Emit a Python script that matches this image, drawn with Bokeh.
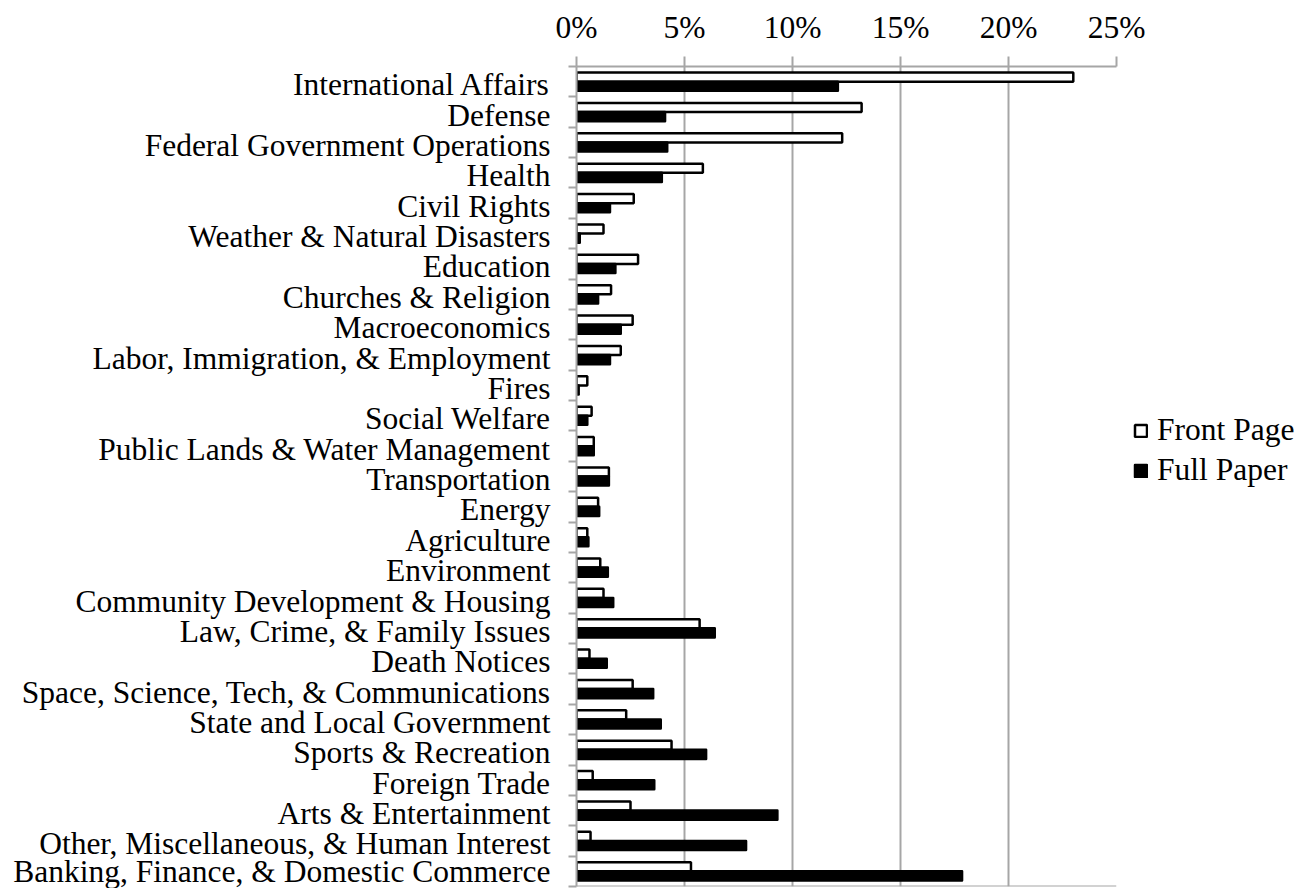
from bokeh.plotting import figure
from bokeh.models import (ColumnDataSource, FixedTicker, Legend, LegendItem,
                          PrintfTickFormatter, Range1d, Span)
from bokeh.embed import file_html
from bokeh.resources import INLINE

categories = [
    "International Affairs", "Defense", "Federal Government Operations", "Health",
    "Civil Rights", "Weather & Natural Disasters", "Education", "Churches & Religion",
    "Macroeconomics", "Labor, Immigration, & Employment", "Fires", "Social Welfare",
    "Public Lands & Water Management", "Transportation", "Energy", "Agriculture",
    "Environment", "Community Development & Housing", "Law, Crime, & Family Issues",
    "Death Notices", "Space, Science, Tech, & Communications", "State and Local Government",
    "Sports & Recreation", "Foreign Trade", "Arts & Entertainment",
    "Other, Miscellaneous, & Human Interest", "Banking, Finance, & Domestic Commerce",
]
front_page = [23.0, 13.2, 12.3, 5.85, 2.65, 1.25, 2.85, 1.6, 2.6, 2.05, 0.5, 0.7, 0.8,
              1.5, 1.0, 0.5, 1.1, 1.25, 5.7, 0.6, 2.6, 2.3, 4.4, 0.75, 2.5, 0.65, 5.3]
full_paper = [12.1, 4.1, 4.2, 3.95, 1.55, 0.15, 1.8, 1.0, 2.05, 1.55, 0.1, 0.5, 0.8,
              1.5, 1.05, 0.55, 1.45, 1.7, 6.4, 1.4, 3.55, 3.9, 6.0, 3.6, 9.3, 7.85, 17.85]
x_ticks = [0, 5, 10, 15, 20, 25]

n = len(categories)
centers = [n - 1 - i for i in range(n)]
src = ColumnDataSource(dict(
    yc=centers,
    y_front=[c + 0.15 for c in centers],
    y_full=[c - 0.15 for c in centers],
    front=front_page,
    full=full_paper,
))

FONT = "Liberation Serif"
GRAY = "#a6a6a6"
FS = "31.5px"

p = figure(frame_width=540, frame_height=820, x_axis_location="above",
           x_range=Range1d(0, 25), y_range=Range1d(-0.5, n - 0.5),
           output_backend="svg", toolbar_location=None,
           min_border_left=576, min_border_top=66, min_border_bottom=2,
           min_border_right=4)
p.outline_line_color = None
p.background_fill_color = "white"

r_front = p.hbar(y="y_front", left=0, right="front", height=0.3, source=src,
                 fill_color="white", line_color="black", line_width=2.5)
r_full = p.hbar(y="y_full", left=0, right="full", height=0.3, source=src,
                fill_color="black", line_color="black", line_width=2.5,
                line_join="round")

# top (value) axis
xa = p.xaxis[0]
xa.ticker = FixedTicker(ticks=x_ticks)
xa.formatter = PrintfTickFormatter(format="%d%%")
xa.axis_line_color = GRAY
xa.axis_line_width = 2
xa.major_tick_line_color = GRAY
xa.major_tick_line_width = 2
xa.major_tick_out = 10
xa.major_tick_in = 0
xa.minor_tick_line_color = None
xa.major_label_text_font = FONT
xa.major_label_text_font_size = FS
xa.major_label_text_color = "black"
xa.major_label_standoff = 12

# left (category) axis; label anchors sit slightly below the category centre
label_pos = [round(c - 0.1, 2) for c in centers]
ya = p.yaxis[0]
ya.ticker = FixedTicker(ticks=label_pos, minor_ticks=[c - 0.5 for c in range(n + 1)])
ya.major_label_overrides = {lp: categories[n - 1 - c] for lp, c in zip(label_pos, centers)}
ya.axis_line_color = GRAY
ya.axis_line_width = 2
ya.major_tick_line_color = None
ya.major_tick_out = 0
ya.major_tick_in = 0
ya.minor_tick_line_color = GRAY
ya.minor_tick_line_width = 2
ya.minor_tick_out = 8
ya.minor_tick_in = 0
ya.major_label_text_font = FONT
ya.major_label_text_font_size = FS
ya.major_label_text_color = "black"
ya.major_label_standoff = 18

p.xgrid.grid_line_color = GRAY
p.xgrid.grid_line_width = 2
p.ygrid.grid_line_color = None

p.add_layout(Span(location=-0.5, dimension="width", line_color=GRAY, line_width=2))

legend = Legend(items=[LegendItem(label="Front Page", renderers=[r_front]),
                       LegendItem(label="Full Paper", renderers=[r_full])],
                location=(17, 398))
legend.label_text_font = FONT
legend.label_text_font_size = FS
legend.label_text_color = "black"
legend.glyph_width = 15
legend.glyph_height = 15
legend.label_standoff = 9
legend.spacing = 4
legend.padding = 0
legend.margin = 0
legend.border_line_color = None
legend.background_fill_alpha = 0
p.add_layout(legend, "right")

open("out.html", "w").write(file_html(p, INLINE))
